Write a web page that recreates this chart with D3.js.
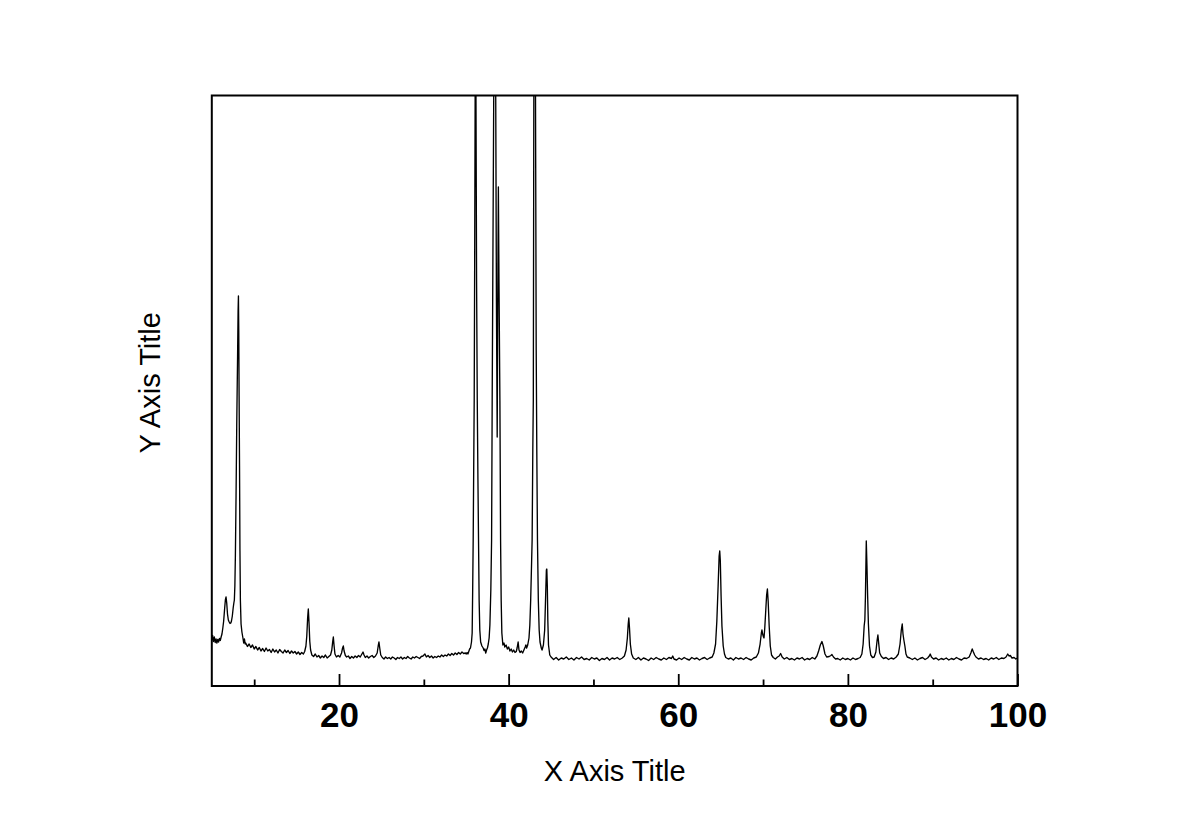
<!DOCTYPE html>
<html>
<head>
<meta charset="utf-8">
<script src="https://cdn.jsdelivr.net/npm/d3@7/dist/d3.min.js"></script>
<style>
  html, body { margin: 0; padding: 0; background: #fff; }
  svg { display: block; font-family: "Liberation Sans", Arial, Helvetica, sans-serif; }
</style>
</head>
<body>
<svg id="chart" width="1181" height="823"></svg>
<script>
// ---- Data (2θ in degrees, intensity in counts) ----
const scanLow = [
  [5.0,455],[5.1,505],[5.2,445],[5.3,490],[5.4,435],[5.5,470],[5.6,430],[5.7,465],[5.8,440],[5.9,475],
  [6.0,455],[6.1,490],[6.2,520],[6.3,580],[6.4,650],[6.5,760],[6.6,860],[6.68,890],[6.76,830],[6.85,720],
  [6.95,660],[7.05,640],[7.15,625],[7.24,630],[7.32,650],[7.42,700],[7.52,780],[7.6,830],[7.66,860],[7.72,1000],
  [7.78,1300],[7.86,1900],[7.94,2600],[8.04,3300],[8.1,3750],[8.14,3900],[8.18,3550],[8.22,2900],[8.27,2200],[8.32,1350],
  [8.37,860],[8.45,620],[8.55,540],[8.67,480],[8.76,430],[8.85,470],[8.94,420],
  [9.0,430],[9.2,395],[9.4,420],[9.6,385],[9.8,410],[10.0,370],[10.2,395],[10.4,360],[10.6,385],[10.8,350],
  [11.0,375],[11.2,345],[11.4,380],[11.6,350],[11.8,365],[12.0,335],[12.2,370],[12.4,340],[12.6,360],[12.8,330],
  [13.0,365],[13.2,345],[13.4,330],[13.6,360],[13.8,335],[14.0,355],[14.2,325],[14.4,350],[14.6,330],[14.8,345],
  [15.0,320],[15.2,340],[15.4,315],[15.6,335],[15.8,320],[15.95,345],[16.1,400],[16.2,500],[16.3,680],[16.38,770],
  [16.46,640],[16.55,450],[16.65,360],[16.8,310],[17.0,295],[17.2,320],[17.4,290],[17.6,305],[17.8,280],[18.0,300],
  [18.2,285],[18.4,310],[18.6,280],[18.8,295],[19.0,310],[19.15,360],[19.25,440],[19.33,490],[19.42,400],[19.52,320],
  [19.7,290],[19.9,305],[20.1,290],[20.3,330],[20.42,380],[20.51,400],[20.6,350],[20.75,305],[20.9,290],[21.1,300],
  [21.3,275],[21.5,295],[21.7,280],[21.9,300],[22.1,285],[22.3,305],[22.5,290],[22.7,320],[22.83,340],[22.95,310],
  [23.1,285],[23.3,300],[23.5,280],[23.7,295],[23.9,305],[24.1,285],[24.3,300],[24.5,330],[24.62,400],[24.71,440],
  [24.8,380],[24.92,310],[25.1,285],[25.3,270],[25.5,290],[25.7,275],[25.9,285],[26.1,270],[26.3,290],[26.5,280],
  [26.7,265],[26.9,285],[27.1,275],[27.3,290],[27.5,270],[27.7,285],[27.9,275],[28.1,295],[28.3,280],[28.5,270],
  [28.7,290],[28.9,280],[29.1,295],[29.3,285],[29.5,275],[29.7,295],[29.9,300],[30.13,320],[30.3,290],[30.5,305],
  [30.7,285],[30.9,300],[31.1,280],[31.3,295],[31.5,285],[31.7,300],[31.9,290],[32.1,310],[32.3,295],[32.5,310],
  [32.7,300],[32.9,320],[33.1,305],[33.3,325],[33.5,310],[33.7,330],[33.9,315],[34.1,335],[34.3,320],[34.5,340],
  [34.7,325],[34.9,330]
];

const scanPeaks = [
  [35.0,320],[35.1,335],[35.2,320],[35.3,345],[35.4,370],[35.5,380],[35.62,440],[35.7,530],[35.76,960],[35.82,1460],
  [35.88,2160],[35.94,2860],[36.0,4360],[36.05,5860],[36.1,9000],[36.15,5860],[36.22,4060],[36.3,2860],[36.38,2060],[36.45,1460],
  [36.52,860],[36.6,560],[36.7,440],[36.85,400],[37.0,380],[37.1,355],[37.2,370],[37.3,330],[37.4,360],[37.5,380],
  [37.6,420],[37.7,480],[37.79,610],[37.9,960],[37.99,1460],[38.06,2860],[38.15,4360],[38.24,5860],[38.36,8000],[38.48,5860],
  [38.56,3860],[38.65,2490],[38.72,3860],[38.79,4990],[38.86,4060],[38.97,2860],[39.05,1460],[39.12,860],[39.2,530],[39.32,410],
  [39.45,430],[39.55,390],[39.7,410],[39.85,370],[40.0,390],[40.15,350],[40.3,370],[40.45,340],[40.6,360],[40.75,335],
  [40.9,345],[41.0,380],[41.12,440],[41.22,360],[41.35,335],[41.5,350],[41.65,330],[41.8,360],[41.95,390],[42.03,410],
  [42.12,380],[42.25,410],[42.4,480],[42.5,610],[42.6,860],[42.7,1210],[42.77,1460],[42.85,2360],[42.91,2860],[42.97,5860],
  [43.07,9000],[43.17,5860],[43.25,3360],[43.32,2360],[43.4,1460],[43.5,860],[43.6,560],[43.7,440],[43.85,380],[43.94,360],
  [44.1,410],[44.25,560],[44.35,860],[44.45,1160],[44.5,1170],[44.56,1000],[44.62,660],[44.7,410],[44.85,310]
];

const scanHigh = [
  [45.0,290],[45.3,265],[45.6,285],[45.9,260],[46.2,280],[46.5,270],[46.8,290],[47.1,265],[47.4,280],[47.7,260],
  [48.0,285],[48.3,270],[48.6,290],[48.9,265],[49.2,275],[49.5,260],[49.8,285],[50.1,270],[50.4,280],[50.7,255],
  [51.0,275],[51.3,265],[51.6,285],[51.9,260],[52.2,280],[52.5,270],[52.8,285],[53.1,265],[53.4,280],[53.65,300],
  [53.85,360],[54.0,480],[54.1,620],[54.17,680],[54.25,580],[54.35,420],[54.5,320],[54.7,280],[55.0,265],[55.3,285],
  [55.6,260],[55.9,280],[56.2,270],[56.5,255],[56.8,280],[57.1,265],[57.4,285],[57.7,270],[58.0,260],[58.3,280],
  [58.6,265],[58.9,285],[59.2,275],[59.35,300],[59.5,270],[59.8,260],[60.1,280],[60.4,265],[60.7,285],[61.0,270],
  [61.3,260],[61.6,285],[61.9,270],[62.2,280],[62.5,260],[62.8,275],[63.1,285],[63.4,265],[63.7,280],[64.0,290],
  [64.2,330],[64.4,420],[64.55,650],[64.7,1000],[64.82,1300],[64.89,1350],[64.96,1250],[65.05,900],[65.15,600],[65.3,400],
  [65.45,320],[65.6,285],[65.9,270],[66.2,280],[66.5,260],[66.8,285],[67.1,270],[67.4,280],[67.7,265],[68.0,285],
  [68.3,270],[68.6,260],[68.9,280],[69.2,290],[69.45,330],[69.65,420],[69.8,530],[69.87,560],[69.95,520],[70.05,490],
  [70.11,480],[70.2,580],[70.32,760],[70.42,910],[70.51,970],[70.6,850],[70.72,600],[70.85,400],[71.0,310],[71.2,285],
  [71.45,270],[71.7,290],[71.9,300],[72.07,325],[72.25,290],[72.5,270],[72.8,285],[73.1,265],[73.4,275],[73.7,260],
  [74.0,280],[74.3,270],[74.6,285],[74.9,260],[75.2,275],[75.5,265],[75.8,285],[76.1,270],[76.35,300],[76.55,350],
  [76.75,410],[76.94,445],[77.1,400],[77.3,320],[77.5,290],[77.8,295],[78.0,305],[78.12,315],[78.3,290],[78.55,270],
  [78.8,275],[79.1,260],[79.4,280],[79.7,265],[80.0,275],[80.3,260],[80.6,280],[80.9,265],[81.2,275],[81.45,285],
  [81.65,320],[81.8,420],[81.92,600],[82.0,660],[82.07,900],[82.17,1450],[82.25,1200],[82.33,900],[82.42,620],[82.55,400],
  [82.7,310],[82.9,285],[83.1,290],[83.3,340],[83.45,460],[83.54,510],[83.63,430],[83.75,330],[83.95,295],[84.2,275],
  [84.5,285],[84.8,265],[85.1,280],[85.4,270],[85.7,290],[85.95,320],[86.15,420],[86.3,560],[86.41,620],[86.5,520],
  [86.6,460],[86.72,400],[86.85,320],[87.0,290],[87.3,280],[87.6,265],[87.9,280],[88.2,260],[88.5,275],[88.8,285],
  [89.1,265],[89.4,280],[89.6,300],[89.71,320],[89.85,290],[90.1,270],[90.4,280],[90.7,260],[91.0,275],[91.3,265],
  [91.6,280],[91.9,260],[92.2,275],[92.5,265],[92.8,285],[93.1,270],[93.4,260],[93.7,280],[94.0,275],[94.3,290],
  [94.5,330],[94.66,370],[94.8,340],[94.95,310],[95.1,290],[95.4,270],[95.7,280],[96.0,265],[96.3,275],[96.6,260],
  [96.9,280],[97.2,270],[97.5,285],[97.8,265],[98.1,280],[98.4,275],[98.65,290],[98.85,320],[99.0,300],[99.15,305],
  [99.35,280],[99.6,285],[99.8,270],[100.0,280]
];

const xDomain = [5, 100];
const yDomain = [0, 5905];
const majorTicks = [20, 40, 60, 80, 100];
const minorTicks = [10, 30, 50, 70, 90];
const xTitle = "X Axis Title";
const yTitle = "Y Axis Title";

// ---- Layout ----
const plotLeft = 211.8, plotRight = 1017.5, plotTop = 95.5, plotBottom = 686;

const svg = d3.select("#chart");
const x = d3.scaleLinear().domain(xDomain).range([plotLeft, plotRight]);
const y = d3.scaleLinear().domain(yDomain).range([plotBottom, plotTop]);

svg.append("defs").append("clipPath").attr("id", "plotClip")
  .append("rect").attr("x", plotLeft).attr("y", plotTop)
  .attr("width", plotRight - plotLeft).attr("height", plotBottom - plotTop);

const pattern = scanLow.concat(scanPeaks, scanHigh);

const line = d3.line().x(d => x(d[0])).y(d => y(d[1]));

svg.append("path")
  .datum(pattern)
  .attr("clip-path", "url(#plotClip)")
  .attr("fill", "none")
  .attr("stroke", "#000")
  .attr("stroke-width", 1.35)
  .attr("stroke-linejoin", "round")
  .attr("d", line);

// minor ticks (inward)
const minorAxis = d3.axisBottom(x).tickValues(minorTicks).tickSize(-6.5).tickFormat("");
svg.append("g").attr("transform", `translate(0,${plotBottom})`).call(minorAxis)
  .call(g => g.select(".domain").remove())
  .call(g => g.selectAll("line").attr("stroke", "#000").attr("stroke-width", 1.8));

// major ticks (inward) with labels
const majorAxis = d3.axisBottom(x).tickValues(majorTicks).tickSize(-12).tickPadding(16)
  .tickFormat(d3.format("d"));
svg.append("g").attr("transform", `translate(0,${plotBottom})`).call(majorAxis)
  .call(g => g.select(".domain").remove())
  .call(g => g.selectAll("line").attr("stroke", "#000").attr("stroke-width", 1.8))
  .call(g => g.selectAll("text")
    .attr("fill", "#000")
    .style("font-family", '"Liberation Sans", Arial, sans-serif')
    .style("font-size", "35px")
    .style("font-weight", "bold"));

// frame
svg.append("rect")
  .attr("x", plotLeft).attr("y", plotTop)
  .attr("width", plotRight - plotLeft).attr("height", plotBottom - plotTop)
  .attr("fill", "none").attr("stroke", "#000").attr("stroke-width", 2);

// axis titles
svg.append("text")
  .attr("x", (plotLeft + plotRight) / 2).attr("y", 781)
  .attr("text-anchor", "middle")
  .style("font-size", "29px")
  .attr("fill", "#000")
  .text(xTitle);

svg.append("text")
  .attr("transform", `translate(160,${(plotTop + plotBottom) / 2 - 8}) rotate(-90)`)
  .attr("text-anchor", "middle")
  .style("font-size", "29px")
  .attr("fill", "#000")
  .text(yTitle);
</script>
</body>
</html>
